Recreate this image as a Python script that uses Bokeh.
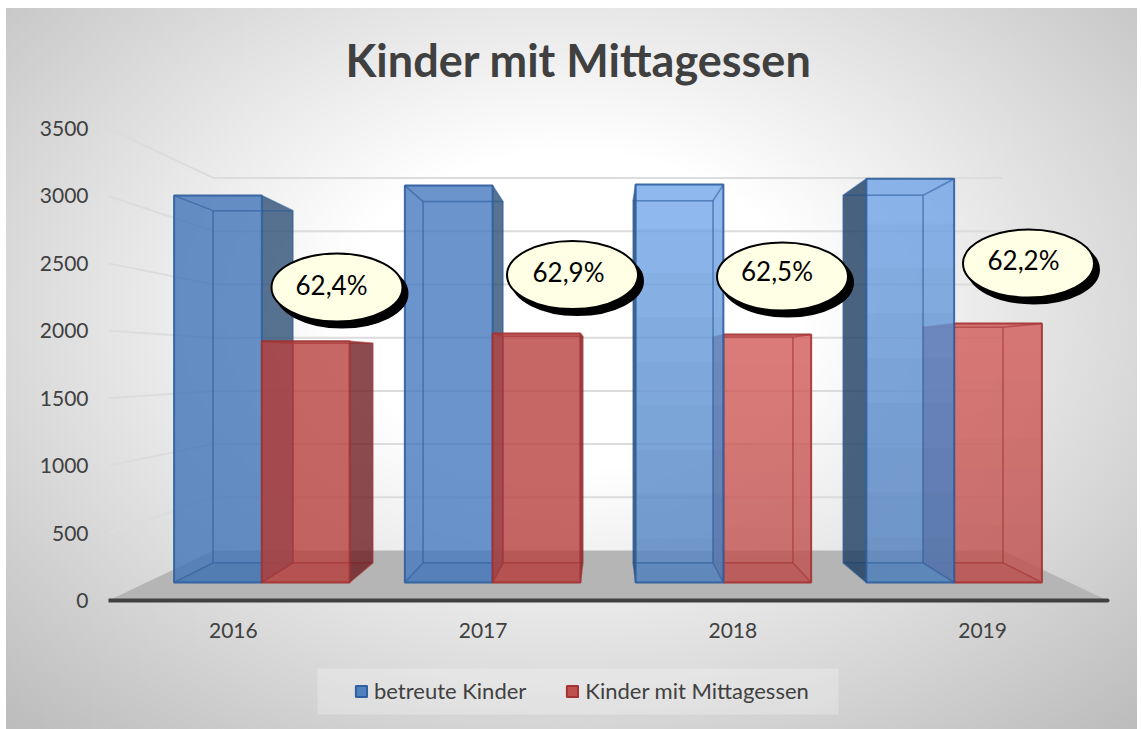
from bokeh.plotting import figure
from bokeh.embed import file_html
from bokeh.resources import INLINE
from bokeh.models import Range1d, FixedTicker, Legend, LegendItem, Title
from bokeh.core.properties import value

years = [2016, 2017, 2018, 2019]
betreute = [3105, 3185, 3193, 3240]
mittagessen = [1935, 1998, 1990, 2078]
quoten = ["62,4%", "62,9%", "62,5%", "62,2%"]
y_ticks = [0, 500, 1000, 1500, 2000, 2500, 3000, 3500]

FONT = "Lato"
W, H = 1141, 729
# page pixel layout; the frame runs to the page's bottom so that the legend fits inside it
L, R, T, B, ZERO = 108, 1141, 110, 729, 600
PX_X = 999 / 4.0
PX_Y = 472 / 3500.0
X0 = 2015.5
X1 = X0 + (R - L) / PX_X
Y0 = (ZERO - B) / PX_Y
Y1 = (ZERO - T) / PX_Y

def xd(px):
    return X0 + (px - L) / PX_X

def yd(py):
    return (ZERO - py) / PX_Y

# 3D projection
VX, VY = 2017.5, yd(363)
D_FRONT, D_BACK, D_WALL = 0.924, 0.841, 0.789
BW = 95 / PX_X

def pr(x, y, d):
    return VX + d * (x - VX), VY + d * (y - VY)

p = figure(width=W, height=H, output_backend="svg", toolbar_location=None,
           x_range=Range1d(X0, X1), y_range=Range1d(Y0, Y1),
           min_border_left=L, min_border_right=0, min_border_top=T,
           min_border_bottom=0, outline_line_color=None,
           background_fill_alpha=0, border_fill_alpha=0)
p.styles = {"background-color": "#ffffff",
            "background-image": "radial-gradient(ellipse 72% 78% at 50% 42%, #ffffff 0%, #ffffff 28%, #bdbdbd 100%)",
            "background-repeat": "no-repeat",
            "background-size": "1131px 721px",
            "background-position": "6px 8px"}
p.grid.visible = False

p.title = Title(text="Kinder mit Mittagessen", align="left", text_font=FONT,
                text_font_size="45px", text_font_style="bold", text_color="#404040",
                standoff=47, offset=237)

p.yaxis.ticker = FixedTicker(ticks=y_ticks)
p.xaxis.ticker = FixedTicker(ticks=years)
p.xaxis.fixed_location = 0
p.xaxis.major_label_overrides = {y: str(y) for y in years}
for ax in (p.xaxis[0], p.yaxis[0]):
    ax.axis_line_color = None
    ax.major_tick_line_color = None
    ax.minor_tick_line_color = None
    ax.major_tick_out = 0
    ax.major_label_text_font = FONT
    ax.major_label_text_font_size = "21px"
    ax.major_label_text_color = "#404040"
p.yaxis.major_label_standoff = 20
p.xaxis.major_label_standoff = 22

# floor
cs = [pr(X0, 0, 1), pr(X0 + 4, 0, 1), pr(X0 + 4, 0, D_WALL), pr(X0, 0, D_WALL)]
p.patch([c[0] for c in cs], [c[1] for c in cs], fill_color="#b5b5b5", line_color=None)

# gridlines on side and back wall
for t in y_ticks[1:]:
    a, b, c = pr(X0, t, 1), pr(X0, t, D_WALL), pr(X0 + 4, t, D_WALL)
    p.line([a[0], b[0], c[0]], [a[1], b[1], c[1]], line_color="#dcdcdc", line_width=2)
p.line([X0, X0 + 4], [0, 0], line_color="#404040", line_width=4, line_cap="round")


def poly(pts, **kw):
    return p.patch([q[0] for q in pts], [q[1] for q in pts], **kw)


def bar(x0, x1, v, fill, edge, dark, dark_left, shade=None, steps=8):
    f = [pr(x0, 0, D_FRONT), pr(x1, 0, D_FRONT), pr(x1, v, D_FRONT), pr(x0, v, D_FRONT)]
    k = [pr(x0, 0, D_BACK), pr(x1, 0, D_BACK), pr(x1, v, D_BACK), pr(x0, v, D_BACK)]
    poly(f, fill_color=fill, fill_alpha=0.8, line_color=None)
    if shade:
        # stacked overlays give the soft top-to-bottom shading
        for s in range(steps):
            top = f[0][1] + (f[2][1] - f[0][1]) * (steps - s) / (steps + 1)
            poly([f[0], f[1], (f[1][0], top), (f[0][0], top)],
                 fill_color=shade[0], fill_alpha=shade[1] / steps, line_color=None)
    # bottom
    poly([f[0], f[1], k[1], k[0]], fill_color=edge, fill_alpha=0.12, line_color=edge, line_alpha=0.35, line_width=1.5)
    # back outline
    poly(k, fill_alpha=0, line_color=edge, line_alpha=0.4, line_width=1.5)
    # sides
    left = [f[0], k[0], k[3], f[3]]
    right = [f[1], k[1], k[2], f[2]]
    poly(left, fill_color=dark, fill_alpha=0.8 if dark_left else 0, line_color=edge, line_alpha=0.35, line_width=1.5)
    poly(right, fill_color=dark, fill_alpha=0 if dark_left else 0.8, line_color=edge, line_alpha=0.35, line_width=1.5)
    # top
    poly([f[3], f[2], k[2], k[3]], fill_alpha=0, line_color=edge, line_alpha=0.35, line_width=1.5)
    # front outline
    poly(f, fill_alpha=0, line_color=edge, line_alpha=0.85, line_width=2)


BLUE_FILL = ["#4074b8", "#4679bf", "#72a6ea", "#6fa3e7"]
RED_FILL = ["#b8413e", "#b8413e", "#d25a58", "#d25a58"]
BLUE_SHADE = [None, None, ("#203050", 0.24), ("#203050", 0.24)]
RED_SHADE = [None, None, ("#602020", 0.14), ("#602020", 0.14)]
for i, yr in enumerate(years):
    blue = dict(x0=yr - BW, x1=yr, v=betreute[i], fill=BLUE_FILL[i], edge="#2f5f9e",
                dark="#2d5075" if yr < VX else "#1b3c60", dark_left=yr > VX, shade=BLUE_SHADE[i])
    red = dict(x0=yr, x1=yr + BW, v=mittagessen[i], fill=RED_FILL[i], edge="#a33333",
               dark="#6e1e23", dark_left=yr > VX, shade=RED_SHADE[i])
    if yr < VX:
        bar(**blue)
        bar(**red)
    else:
        bar(**red)
        bar(**blue)

# callout balloons
cx_px = [336.5, 572, 782, 1028]
cy_px = [287, 274.5, 276, 263]
tx_px = [331, 568, 776.5, 1023]
ty_px = [284, 271, 270, 259]
for cx, cy, tx, ty, q in zip(cx_px, cy_px, tx_px, ty_px, quoten):
    p.ellipse(x=xd(cx + 5), y=yd(cy + 6), width=131, height=68, width_units="screen",
              height_units="screen", fill_color="black", line_color="black", line_width=2)
    p.ellipse(x=xd(cx), y=yd(cy), width=131, height=68, width_units="screen",
              height_units="screen", fill_color="#ffffe5", line_color="black", line_width=2)
    p.text(x=[xd(tx)], y=[yd(ty)], text=[q], text_font=value(FONT), text_font_size="26px",
           text_color="#000000", text_align="center", text_baseline="middle")

# legend panel and legend
p.quad(left=[xd(317)], right=[xd(838)], top=[yd(668)], bottom=[yd(714)],
       fill_color="#ffffff", fill_alpha=0.25, line_color=None)
nan = float("nan")
key_b = p.quad(left=[nan], right=[nan], top=[nan], bottom=[nan], fill_color="#4f81bd", line_color="#2f5f9e", line_width=2)
key_r = p.quad(left=[nan], right=[nan], top=[nan], bottom=[nan], fill_color="#c0504d", line_color="#a33333", line_width=2)
legend = Legend(items=[LegendItem(label="betreute Kinder", renderers=[key_b]),
                       LegendItem(label="Kinder mit Mittagessen", renderers=[key_r])],
                orientation="horizontal", location=(354 - L, B - 704),
                background_fill_alpha=0,
                border_line_color=None, margin=0, padding=0, spacing=39,
                label_standoff=6, glyph_width=14, glyph_height=14,
                label_text_font=FONT, label_text_font_size="22px", label_text_color="#404040")
p.add_layout(legend)

open("out.html", "w").write(file_html(p, INLINE))
